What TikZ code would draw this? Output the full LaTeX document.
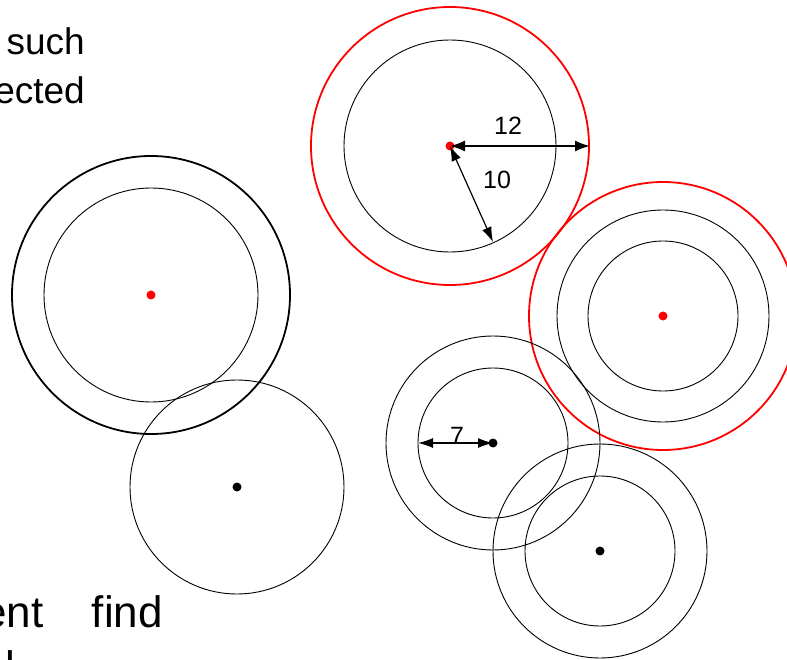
\documentclass[tikz,border=0pt]{standalone}
\usepackage{fontspec}
\setmainfont{Liberation Sans}
\usetikzlibrary{arrows.meta}
\begin{document}
\begin{tikzpicture}[x=1pt,y=-1pt,
  thin circ/.style={draw=black,line width=0.9pt},
  thick circ/.style={draw=black,line width=1.8pt},
  red circ/.style={draw=red,line width=1.8pt},
  reddot/.style={circle,fill=red,inner sep=0pt,minimum size=9pt},
  blackdot/.style={circle,fill=black,inner sep=0pt,minimum size=9pt},
  dimthick/.style={line width=1.8pt,{Latex[length=15pt,width=11pt]}-{Latex[length=15pt,width=11pt]}},
  dimthin/.style={line width=1.2pt,{Latex[length=15pt,width=10pt]}-{Latex[length=15pt,width=10pt]}},
  lbl/.style={font=\fontsize{25}{30}\selectfont,inner sep=0pt},
  bigtxt/.style={font=\fontsize{37}{44}\selectfont,inner sep=0pt},
  bottxt/.style={font=\fontsize{44}{52}\selectfont,inner sep=0pt}]
\useasboundingbox (0,0) rectangle (787,660);
% centres
\coordinate (cA) at (450,146);
\coordinate (cB) at (151,295);
\coordinate (cC) at (237,487);
\coordinate (cD) at (663,316);
\coordinate (cE) at (493,443);
\coordinate (cF) at (600,551);
% circles
\draw[red circ] (cA) circle[radius=139];
\draw[thin circ] (cA) circle[radius=106];
\draw[thick circ] (cB) circle[radius=139];
\draw[thin circ] (cB) circle[radius=107];
\draw[thin circ] (cC) circle[radius=107];
\draw[red circ] (cD) circle[radius=134];
\draw[thin circ] (cD) circle[radius=106];
\draw[thin circ] (cD) circle[radius=75];
\draw[thin circ] (cE) circle[radius=107];
\draw[thin circ] (cE) circle[radius=75];
\draw[thin circ] (cF) circle[radius=107];
\draw[thin circ] (cF) circle[radius=75];
% dots
\node[reddot] (dA) at (cA) {};
\node[reddot] (dB) at (cB) {};
\node[reddot] (dD) at (cD) {};
\node[blackdot] (dC) at (cC) {};
\node[blackdot] (dE) at (cE) {};
\node[blackdot] (dF) at (cF) {};
% dimension arrows
\coordinate (a12) at (590,146);
\coordinate (a10) at (493,242);
\coordinate (a7) at (418,443);
\draw[dimthick] (cA) -- (a12);
\draw[dimthin] (cA) -- (a10);
\draw[dimthin] (a7) -- (cE);
\node[lbl] (l12) at (508,126) {12};
\node[lbl] (l10) at (497,180) {10};
\node[lbl] (l7) at (457,436) {7};
% text fragments
\node[bigtxt,anchor=base east] (t1) at (85,55) {such};
\node[bigtxt,anchor=base east] (t2) at (85,104) {ected};
\node[bottxt,anchor=base west] (t3) at (-18,627) {ent};
\node[bottxt,anchor=base east] (t4) at (163,627) {find};
\node[bottxt,anchor=base west] (t5) at (5,682) {l};
\end{tikzpicture}
\end{document}
